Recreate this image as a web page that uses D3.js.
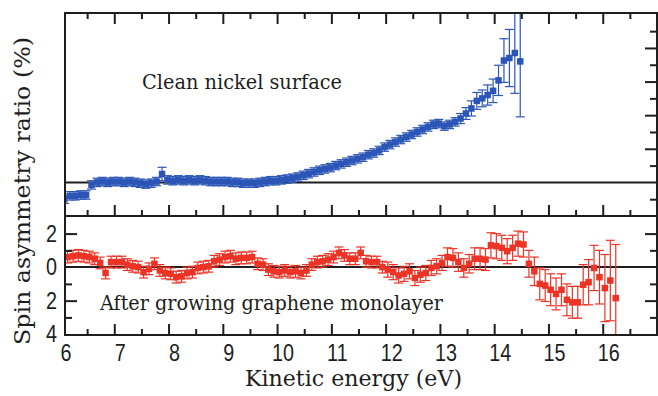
<!DOCTYPE html>
<html><head><meta charset="utf-8">
<script src="https://cdn.jsdelivr.net/npm/d3@7/dist/d3.min.js"></script>
<style>html,body{margin:0;padding:0;background:#fff;}svg{display:block;}</style>
</head><body>
<svg id="chart" width="658" height="396"></svg>
<script>
// ---------- data ----------
const blueEnergy = [6.08,6.18,6.28,6.38,6.48,6.58,6.68,6.78,6.88,6.98,
  7.08,7.18,7.28,7.38,7.48,7.58,7.68,7.78,7.88,7.98,
  8.08,8.18,8.28,8.38,8.48,8.58,8.68,8.78,8.88,8.98,
  9.08,9.18,9.28,9.38,9.48,9.58,9.68,9.78,9.88,9.98,
  10.08,10.18,10.28,10.38,10.48,10.58,10.68,10.78,10.88,10.98,
  11.08,11.18,11.28,11.38,11.48,11.58,11.68,11.78,11.88,11.98,
  12.08,12.18,12.28,12.38,12.48,12.58,12.68,12.78,12.88,12.98,
  13.08,13.18,13.28,13.38,13.48,13.58,13.68,13.78,13.88,13.98,
  14.08,14.18,14.28,14.38,14.48];
const blueAsym = [-1.0,-0.8,-0.8,-0.75,-0.75,-0.15,0.0,0.05,0.0,0.05,
  0.05,0.0,0.05,0.0,-0.05,-0.1,-0.05,0.05,0.5,0.15,
  0.1,0.15,0.1,0.15,0.1,0.15,0.1,0.05,0.05,0.05,
  0.05,0.0,0.0,-0.05,-0.05,-0.05,0.0,0.05,0.1,0.1,
  0.15,0.2,0.25,0.32,0.42,0.52,0.62,0.72,0.8,0.88,
  1.0,1.1,1.2,1.3,1.4,1.5,1.65,1.75,1.9,2.1,
  2.25,2.4,2.55,2.7,2.85,3.0,3.15,3.3,3.45,3.5,
  3.35,3.45,3.6,3.8,4.1,4.4,4.85,5.0,5.2,5.45,
  6.07,7.25,7.4,7.7,7.2];
const blueErr = [0.25,0.25,0.25,0.25,0.25,0.25,0.25,0.25,0.25,0.25,
  0.25,0.25,0.25,0.25,0.25,0.25,0.25,0.25,0.4,0.25,
  0.25,0.25,0.25,0.25,0.25,0.25,0.25,0.25,0.25,0.25,
  0.25,0.25,0.25,0.25,0.25,0.25,0.25,0.25,0.25,0.25,
  0.25,0.25,0.25,0.25,0.25,0.25,0.25,0.25,0.25,0.25,
  0.25,0.25,0.25,0.25,0.25,0.25,0.25,0.25,0.25,0.25,
  0.25,0.25,0.25,0.25,0.25,0.25,0.25,0.25,0.25,0.25,
  0.25,0.25,0.25,0.3,0.35,0.45,0.5,0.5,0.6,0.7,
  0.9,1.3,1.7,2.4,3.3];

const redEnergy = [6.14,6.24,6.34,6.44,6.54,6.64,6.74,6.84,6.94,
  7.04,7.14,7.24,7.34,7.44,7.54,7.64,7.74,7.84,7.94,
  8.04,8.14,8.24,8.34,8.44,8.54,8.64,8.74,8.84,8.94,
  9.04,9.14,9.24,9.34,9.44,9.54,9.64,9.74,9.84,9.94,
  10.04,10.14,10.24,10.34,10.44,10.54,10.64,10.74,10.84,10.94,
  11.04,11.14,11.24,11.34,11.44,11.54,11.64,11.74,11.84,11.94,
  12.04,12.14,12.24,12.34,12.44,12.54,12.64,12.74,12.84,12.94,
  13.04,13.14,13.24,13.34,13.44,13.54,13.64,13.74,13.84,13.94,
  14.04,14.14,14.24,14.34,14.44,14.54,14.64,14.74,14.84,14.94,
  15.04,15.14,15.24,15.34,15.44,15.54,15.64,15.74,15.84,15.94,
  16.04,16.14,16.24];
const redAsym = [0.6,0.65,0.7,0.65,0.6,0.5,0.25,-0.35,0.3,0.3,
  0.3,0.15,0.05,0.0,-0.3,-0.1,0.2,-0.2,-0.35,-0.4,
  -0.6,-0.55,-0.35,-0.3,-0.05,0.0,0.05,0.35,0.45,0.6,
  0.65,0.5,0.55,0.55,0.6,0.2,0.15,-0.15,-0.25,-0.3,
  -0.2,-0.3,-0.25,-0.35,-0.2,0.15,0.3,0.35,0.45,0.6,
  0.85,0.7,0.5,0.5,0.85,0.35,0.3,0.3,0.0,-0.15,
  -0.3,-0.5,-0.4,-0.25,-0.65,-0.45,-0.35,-0.05,0.05,0.25,
  0.6,0.55,0.3,-0.05,0.2,0.5,0.5,0.45,1.3,1.25,
  1.15,0.95,1.15,1.4,1.35,0.2,-0.25,-1.0,-1.1,-1.35,
  -1.6,-1.35,-1.95,-2.1,-2.1,-1.05,-0.9,-0.05,-0.6,-1.25,
  -0.8,-1.85];
const redErr = [0.35,0.35,0.35,0.35,0.35,0.35,0.35,0.35,0.35,0.35,
  0.35,0.35,0.35,0.35,0.35,0.35,0.35,0.35,0.35,0.35,
  0.35,0.35,0.35,0.35,0.35,0.35,0.35,0.35,0.35,0.35,
  0.35,0.35,0.35,0.35,0.35,0.35,0.35,0.35,0.35,0.35,
  0.35,0.35,0.35,0.35,0.35,0.35,0.35,0.35,0.35,0.35,
  0.35,0.35,0.35,0.35,0.35,0.35,0.35,0.35,0.35,0.45,
  0.45,0.45,0.45,0.45,0.45,0.45,0.45,0.45,0.45,0.45,
  0.55,0.55,0.55,0.55,0.55,0.65,0.65,0.65,0.75,0.75,
  0.75,0.75,0.75,0.75,0.75,0.8,0.85,0.95,0.95,0.95,
  0.95,0.95,0.95,0.95,0.95,1.2,1.35,1.35,1.6,2.0,
  2.4,3.2];

const xMajorTicks = [7,8,9,10,11,12,13,14,15,16];
const xMinorTicks = [6.5,7.5,8.5,9.5,10.5,11.5,12.5,13.5,14.5,15.5,16.5];
const xTickLabels = [6,7,8,9,10,11,12,13,14,15,16];
const topMajorY = [2,4,6,8];
const topMinorY = [-1,1,3,5,7,9];
const botMajorY = [2,-2];
const botMinorY = [1,-1,-3];
const botTickLabels = [2,0,-2,-4];

const labelTop = "Clean nickel surface";
const labelBottom = "After growing graphene monolayer";
const xTitle = "Kinetic energy (eV)";
const yTitle = "Spin asymmetry ratio (%)";

// ---------- layout ----------
const L = 65, R = 657, T1 = 13, B1 = 216, T2 = 216, B2 = 335;
const BLUE = "#2b55b6", RED = "#ec3426", INK = "#1e1e1e";
const svg = d3.select("#chart");

const x = d3.scaleLinear().domain([6.092, 17.0]).range([L, R]);
const yTop = d3.scaleLinear().domain([-2, 10.08]).range([B1, T1]);
const yBot = d3.scaleLinear().domain([-4.05, 3.05]).range([B2, T2]);

const defs = svg.append("defs");
defs.append("clipPath").attr("id","clipTop").append("rect")
  .attr("x",L).attr("y",T1).attr("width",R-L).attr("height",B1-T1);
defs.append("clipPath").attr("id","clipBot").append("rect")
  .attr("x",L).attr("y",T2).attr("width",R-L).attr("height",B2-T2);

function series(clip, yS, ex, ey, ee, color, size, cap) {
  const g = svg.append("g").attr("clip-path", `url(#${clip})`);
  g.append("line").attr("x1",L).attr("x2",R).attr("y1",yS(0)).attr("y2",yS(0))
    .attr("stroke",INK).attr("stroke-width",2);
  const d = ex.map((e,i)=>({e, v:ey[i], err:ee[i]}));
  const eb = g.append("g").attr("stroke",color).attr("stroke-width",1.2).attr("fill","none");
  eb.selectAll("line.v").data(d).join("line").attr("class","v")
    .attr("x1",p=>x(p.e)).attr("x2",p=>x(p.e))
    .attr("y1",p=>yS(p.v+p.err)).attr("y2",p=>yS(p.v-p.err));
  eb.selectAll("line.t").data(d).join("line").attr("class","t")
    .attr("x1",p=>x(p.e)-cap).attr("x2",p=>x(p.e)+cap)
    .attr("y1",p=>yS(p.v+p.err)).attr("y2",p=>yS(p.v+p.err));
  eb.selectAll("line.b").data(d).join("line").attr("class","b")
    .attr("x1",p=>x(p.e)-cap).attr("x2",p=>x(p.e)+cap)
    .attr("y1",p=>yS(p.v-p.err)).attr("y2",p=>yS(p.v-p.err));
  g.append("g").selectAll("rect").data(d).join("rect")
    .attr("x",p=>x(p.e)-size/2).attr("y",p=>yS(p.v)-size/2)
    .attr("width",size).attr("height",size).attr("fill",color);
}
series("clipTop", yTop, blueEnergy, blueAsym, blueErr, BLUE, 6.5, 4.5);
series("clipBot", yBot, redEnergy, redAsym, redErr, RED, 6.5, 4.5);

// ---------- ticks via d3 axes ----------
function tickAxis(gen, tx, ty, vals, size, scale) {
  const a = gen(scale).tickValues(vals).tickSizeInner(size).tickSizeOuter(0).tickFormat("");
  const g = svg.append("g").attr("transform",`translate(${tx},${ty})`).call(a);
  g.select(".domain").remove();
  g.selectAll(".tick line").attr("stroke",INK).attr("stroke-width",2);
}
tickAxis(d3.axisTop, 0, T1, xMajorTicks, -11, x);
tickAxis(d3.axisTop, 0, T1, xMinorTicks, -6, x);
tickAxis(d3.axisBottom, 0, B1, xMajorTicks, -11, x);
tickAxis(d3.axisBottom, 0, B1, xMinorTicks, -6, x);
tickAxis(d3.axisBottom, 0, B2, xMajorTicks, -11, x);
tickAxis(d3.axisBottom, 0, B2, xMinorTicks, -6, x);
tickAxis(d3.axisRight, R, 0, topMajorY, -12, yTop);
tickAxis(d3.axisRight, R, 0, topMinorY, -7, yTop);
tickAxis(d3.axisLeft, L, 0, botMajorY, -12, yBot);
tickAxis(d3.axisLeft, L, 0, botMinorY, -7, yBot);
tickAxis(d3.axisRight, R, 0, botMajorY, -12, yBot);
tickAxis(d3.axisRight, R, 0, botMinorY, -7, yBot);

svg.append("rect").attr("x",L).attr("y",T1).attr("width",R-L).attr("height",B1-T1)
  .attr("fill","none").attr("stroke",INK).attr("stroke-width",2);
svg.append("rect").attr("x",L).attr("y",T2).attr("width",R-L).attr("height",B2-T2)
  .attr("fill","none").attr("stroke",INK).attr("stroke-width",2);

// ---------- tick labels ----------
const numFont = "'Liberation Sans Narrow','Liberation Sans',Arial,sans-serif";
const xl = svg.append("g").attr("transform",`translate(0,${B2})`)
  .call(d3.axisBottom(x).tickValues(xTickLabels).tickSize(0).tickPadding(0).tickFormat(d3.format("d")));
xl.select(".domain").remove();
xl.selectAll("text").attr("font-family",numFont).attr("font-size",24).attr("fill",INK)
  .attr("dx",5.5).attr("dy",0).attr("y",26);

const yl = svg.append("g").attr("transform",`translate(${L},0)`)
  .call(d3.axisLeft(yBot).tickValues(botTickLabels).tickSize(0).tickPadding(8).tickFormat(d=>String(Math.abs(d))));
yl.select(".domain").remove();
yl.selectAll("text").attr("font-family",numFont).attr("font-size",24).attr("fill",INK);

(function(){
  const probe = svg.append("text").attr("font-family",numFont).attr("font-size",24).text("10");
  const w = probe.node().getComputedTextLength(); probe.remove();
  const target = 22;
  if (w > target + 1) {
    const s = target / w;
    xl.selectAll(".tick").each(function(){
      const g = d3.select(this);
      g.select("text").attr("transform",`scale(${s},1)`).attr("dx",5.5/s);
    });
    yl.selectAll(".tick text").attr("transform",`scale(${s},1)`).attr("x",-8/s);
  }
})();

// ---------- titles ----------
const serif = "'DejaVu Serif','Liberation Serif',serif";
function fitText(sel, w) { sel.attr("textLength", w).attr("lengthAdjust","spacingAndGlyphs"); }
const t1 = svg.append("text").attr("x",142).attr("y",89).attr("font-family",serif)
  .attr("font-size",20).attr("fill",INK).text(labelTop); fitText(t1,200);
const t2 = svg.append("text").attr("x",100).attr("y",310).attr("font-family",serif)
  .attr("font-size",20).attr("fill",INK).text(labelBottom); fitText(t2,343);
const t3 = svg.append("text").attr("x",245).attr("y",386).attr("font-family",serif)
  .attr("font-size",22).attr("fill",INK).text(xTitle); fitText(t3,217);
const t4 = svg.append("text").attr("transform","translate(30,191) rotate(-90)")
  .attr("x",-154).attr("y",0).attr("font-family",serif)
  .attr("font-size",23).attr("fill",INK).text(yTitle); fitText(t4,308);
</script>
</body></html>
